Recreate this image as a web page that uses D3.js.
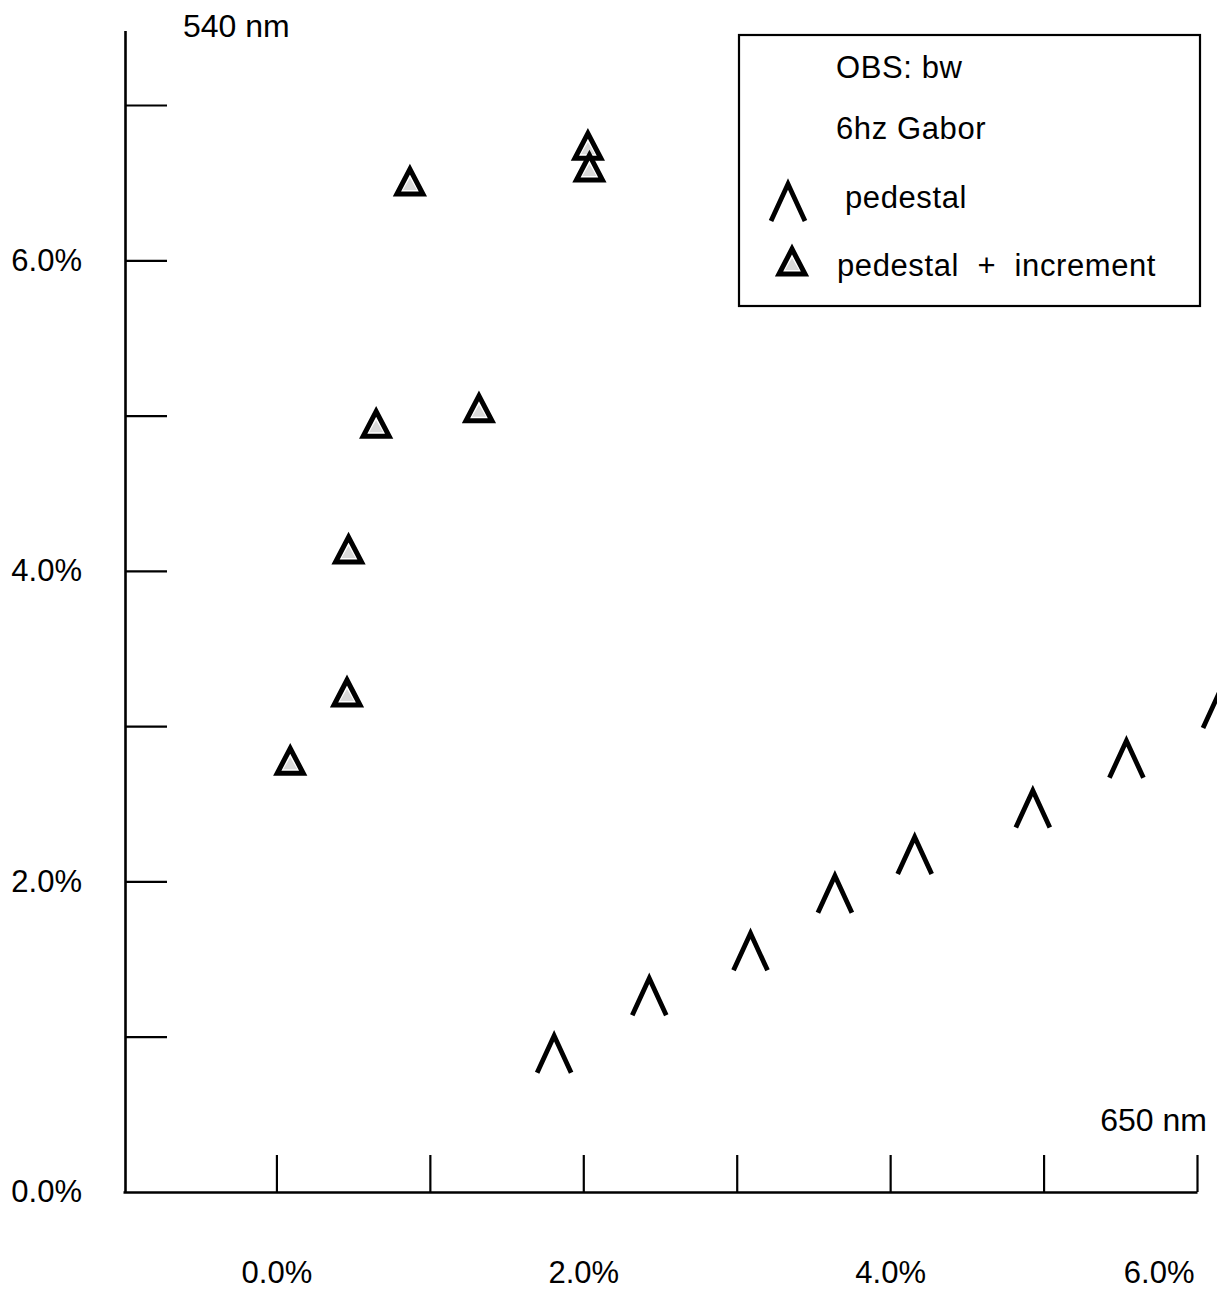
<!DOCTYPE html>
<html>
<head>
<meta charset="utf-8">
<script src="https://cdn.jsdelivr.net/npm/d3@7"></script>
<style>
  html, body { margin: 0; padding: 0; background: #fff; }
  svg { display: block; }
  text { font-family: "Liberation Sans", Arial, Helvetica, sans-serif; fill: #000; white-space: pre; }
</style>
</head>
<body>
<svg id="chart" width="1217" height="1293"></svg>
<script>
// Pedestal contrast (x) vs. threshold (y), both in percent
const pedestalX = [1.81, 2.43, 3.09, 3.64, 4.16, 4.93, 5.54, 6.15];
const pedestalY = [0.89, 1.26, 1.55, 1.92, 2.17, 2.47, 2.79, 3.11];

// Pedestal + increment condition
const incrementX = [0.09, 0.46, 0.47, 0.65, 0.87, 1.32, 2.03, 2.04];
const incrementY = [2.78, 3.22, 4.14, 4.95, 6.51, 5.05, 6.74, 6.60];

// Axis ticks and labels
const xTicks = [0, 1, 2, 3, 4, 5, 6];
const xLabelTicks = [0, 2, 4, 6];
const yTicks = [1, 2, 3, 4, 5, 6, 7];
const yLabelTicks = [0, 2, 4, 6];

const legendLines = ["OBS: bw", "6hz Gabor"];
const legendSeries = ["pedestal", "pedestal  +  increment"];

const svg = d3.select("#chart");

const x = d3.scaleLinear().domain([-1, 6]).range([123, 1197]);
const y = d3.scaleLinear().domain([0, 7]).range([1192, 105]);
const yTop = 7.48;
const fmt = d => d3.format(".1f")(d) + "%";
const labelFont = 31;

// X axis: baseline with ticks pointing up
const xAxis = svg.append("g")
  .attr("transform", `translate(0,${y(0)})`)
  .call(d3.axisBottom(x).tickValues(xTicks).tickSizeInner(-37).tickSizeOuter(0).tickFormat(""));
xAxis.select(".domain").attr("stroke-width", 2.6);
xAxis.selectAll(".tick line").attr("stroke-width", 2.2);

const xLab = svg.append("g")
  .attr("transform", `translate(0,${y(0)})`)
  .call(d3.axisBottom(x).tickValues(xLabelTicks).tickSize(0).tickPadding(69).tickFormat(fmt));
xLab.select(".domain").remove();
xLab.selectAll("text").attr("font-size", labelFont).attr("font-family", null);
xLab.selectAll(".tick").filter(d => d === 6).select("text")
  .attr("text-anchor", "end").attr("x", -3);

// Y axis: vertical line with ticks pointing right
const yAxis = svg.append("g")
  .attr("transform", `translate(${x(-1) + 2},0)`)
  .call(d3.axisRight(y.copy().domain([0, yTop]).range([y(0), y(yTop)]))
    .tickValues(yTicks).tickSizeInner(42).tickSizeOuter(0).tickFormat(""));
yAxis.select(".domain").attr("stroke-width", 2.6);
yAxis.selectAll(".tick line").attr("stroke-width", 2.2);

const yLab = svg.append("g")
  .attr("transform", `translate(${x(-1) + 2},0)`)
  .call(d3.axisLeft(y).tickValues(yLabelTicks).tickSize(0).tickPadding(43).tickFormat(fmt));
yLab.select(".domain").remove();
yLab.selectAll("text").attr("font-size", labelFont).attr("font-family", null);

// Wavelength annotations at the axis ends
svg.append("text").attr("x", 183).attr("y", 37).attr("font-size", 32).text("540 nm");
svg.append("text").attr("x", 1207).attr("y", 1131).attr("font-size", 32)
  .attr("text-anchor", "end").text("650 nm");

// Marker shapes
const caretPath = "M-17,19 L0,-18 L17,19";
const trianglePath = "M0,-12 L13,13 L-13,13 Z";

function drawCaret(g, cx, cy) {
  g.append("path").attr("d", caretPath)
    .attr("transform", `translate(${cx},${cy})`)
    .attr("fill", "none").attr("stroke", "#000")
    .attr("stroke-width", 4.8).attr("stroke-linejoin", "miter");
}
function drawTriangle(g, cx, cy) {
  const m = g.append("g").attr("transform", `translate(${cx},${cy})`);
  m.append("path").attr("d", trianglePath)
    .attr("fill", "#fff").attr("stroke", "#000")
    .attr("stroke-width", 5).attr("stroke-linejoin", "miter");
  // speckled grey shading inside the filled triangle symbol
  m.append("path").attr("d", "M0,-3 L7,9 L-7,9 Z").attr("fill", "#000").attr("opacity", 0.15);
}

const marks = svg.append("g");
incrementX.forEach((v, i) => drawTriangle(marks, x(v), y(incrementY[i])));
pedestalX.forEach((v, i) => drawCaret(marks, x(v), y(pedestalY[i])));

// Legend box
const lg = svg.append("g");
lg.append("rect").attr("x", 739).attr("y", 35).attr("width", 461).attr("height", 271)
  .attr("fill", "#fff").attr("stroke", "#000").attr("stroke-width", 2.2);
const legendFont = 31;
const legendSpacing = 0.6;
lg.selectAll("text.info").data(legendLines).join("text")
  .attr("class", "info")
  .attr("x", 836).attr("y", (d, i) => 78 + i * 61)
  .attr("font-size", legendFont).attr("letter-spacing", legendSpacing)
  .text(d => d);
lg.append("text").attr("x", 845).attr("y", 208).attr("font-size", legendFont)
  .attr("letter-spacing", legendSpacing).text(legendSeries[0]);
lg.append("text").attr("x", 837).attr("y", 276).attr("font-size", legendFont)
  .attr("letter-spacing", legendSpacing).text(legendSeries[1]);
drawCaret(lg, 788, 202);
drawTriangle(lg, 792, 261);
</script>
</body>
</html>
